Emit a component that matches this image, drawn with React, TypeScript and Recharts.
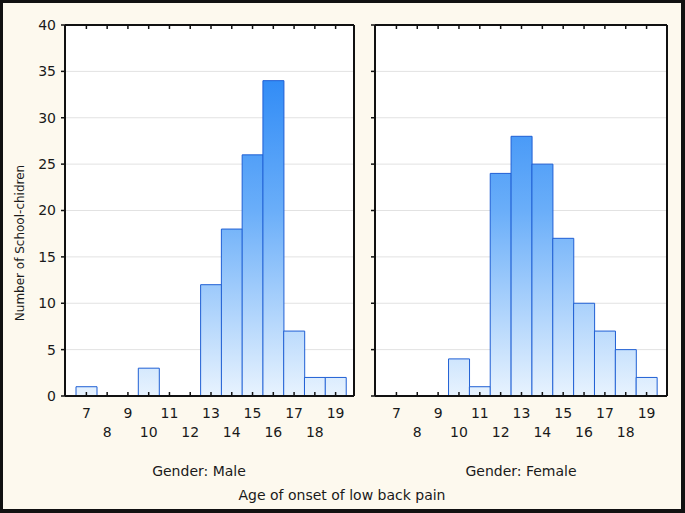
import React from 'react';
import { BarChart, Bar, XAxis, YAxis, CartesianGrid } from 'recharts';

const ages = [7, 8, 9, 10, 11, 12, 13, 14, 15, 16, 17, 18, 19];
const maleCounts = [1, 0, 0, 3, 0, 0, 12, 18, 26, 34, 7, 2, 2];
const femaleCounts = [0, 0, 0, 4, 1, 24, 28, 25, 17, 10, 7, 5, 2];
const yTicks = [0, 5, 10, 15, 20, 25, 30, 35, 40];

const maleData = ages.map((a, i) => ({ age: a, count: maleCounts[i] }));
const femaleData = ages.map((a, i) => ({ age: a, count: femaleCounts[i] }));

const FONT = '"DejaVu Sans", Arial, sans-serif';
const TEXT = '#1a1a1a';

const BottomTick = (props: any) => {
  const { x, y, payload } = props;
  const odd = Number(payload.value) % 2 === 1;
  return (
    <g>
      <line x1={x} x2={x} y1={y} y2={y - 4} stroke="#111" strokeWidth={1.5} />
      <text x={x} y={y + (odd ? 22 : 41)} textAnchor="middle" fontSize={14} fill={TEXT} fontFamily={FONT}>
        {payload.value}
      </text>
    </g>
  );
};

const TopTick = (props: any) => {
  const { x, y } = props;
  return <line x1={x} x2={x} y1={y} y2={y + 4} stroke="#111" strokeWidth={1.5} />;
};

const NoTick = () => <g />;

function Panel({ data, gid, marginRight, leftWidth, showYLabels, padding }: any) {
  return (
    <BarChart
      width={685}
      height={513}
      data={data}
      margin={{ top: 24, right: marginRight, bottom: 0, left: 0 }}
      barCategoryGap={0}
      barGap={0}
    >
      <defs>
        <linearGradient id={gid} gradientUnits="userSpaceOnUse" x1="0" y1="25" x2="0" y2="396">
          <stop offset="0%" stopColor="#1a7ef5" />
          <stop offset="50%" stopColor="#6aaef9" />
          <stop offset="100%" stopColor="#e8f3fe" />
        </linearGradient>
      </defs>
      <CartesianGrid xAxisId="b" yAxisId="l" vertical={false} stroke="#e2e2e2" fill="#ffffff" />
      <XAxis
        xAxisId="b"
        dataKey="age"
        type="category"
        interval={0}
        height={117}
        padding={padding}
        tickSize={0}
        tickMargin={0}
        tickLine={false}
        axisLine={{ stroke: '#111', strokeWidth: 2 }}
        tick={<BottomTick />}
      />
      <XAxis
        xAxisId="t"
        orientation="top"
        dataKey="age"
        type="category"
        interval={0}
        height={1}
        padding={padding}
        tickSize={0}
        tickMargin={0}
        tickLine={false}
        axisLine={{ stroke: '#111', strokeWidth: 2 }}
        tick={<TopTick />}
      />
      <YAxis
        yAxisId="l"
        type="number"
        domain={[0, 40]}
        ticks={yTicks}
        interval={0}
        width={leftWidth}
        tickSize={4}
        tickMargin={5}
        tickLine={{ stroke: '#111', strokeWidth: 1.5 }}
        axisLine={{ stroke: '#111', strokeWidth: 2 }}
        tick={showYLabels ? { fill: TEXT, fontSize: 14, fontFamily: FONT } : NoTick}
      />
      <YAxis
        yAxisId="r"
        orientation="right"
        type="number"
        domain={[0, 40]}
        ticks={yTicks}
        interval={0}
        width={1}
        mirror={!showYLabels}
        tickSize={4}
        tickLine={{ stroke: '#111', strokeWidth: 1.5 }}
        axisLine={{ stroke: '#111', strokeWidth: 2 }}
        tick={NoTick}
      />
      <Bar
        xAxisId="b"
        yAxisId="l"
        dataKey="count"
        fill={`url(#${gid})`}
        stroke="#1f5fd4"
        strokeWidth={1}
        isAnimationActive={false}
      />
    </BarChart>
  );
}

export default function App() {
  return (
    <div
      style={{
        position: 'absolute',
        left: 0,
        top: 0,
        width: 685,
        height: 513,
        background: '#fdf9ee',
        overflow: 'hidden',
      }}
    >
      <div style={{ position: 'absolute', left: 0, top: 0 }}>
        <Panel data={maleData} gid="gm" marginRight={330} leftWidth={65} showYLabels={true} padding={{ left: 11, right: 8 }} />
      </div>
      <div style={{ position: 'absolute', left: 0, top: 0 }}>
        <Panel data={femaleData} gid="gf" marginRight={18} leftWidth={375} showYLabels={false} padding={{ left: 11, right: 10 }} />
      </div>
      <svg width={685} height={513} style={{ position: 'absolute', left: 0, top: 0 }}>
        <text
          x={0}
          y={0}
          transform="translate(24,243) rotate(-90)"
          textAnchor="middle"
          fontSize={12}
          fill={TEXT}
          fontFamily={FONT}
        >
          Number of School-chidren
        </text>
        <text x={199} y={476} textAnchor="middle" fontSize={14} fill={TEXT} fontFamily={FONT}>
          Gender: Male
        </text>
        <text x={521} y={476} textAnchor="middle" fontSize={14} fill={TEXT} fontFamily={FONT}>
          Gender: Female
        </text>
        <text x={342} y={500} textAnchor="middle" fontSize={14} fill={TEXT} fontFamily={FONT}>
          Age of onset of low back pain
        </text>
      </svg>
      <div
        style={{
          position: 'absolute',
          left: 0,
          top: 0,
          width: 685,
          height: 513,
          boxSizing: 'border-box',
          borderStyle: 'solid',
          borderColor: '#111',
          borderWidth: '3px 4px 4px 3px',
        }}
      />
    </div>
  );
}
